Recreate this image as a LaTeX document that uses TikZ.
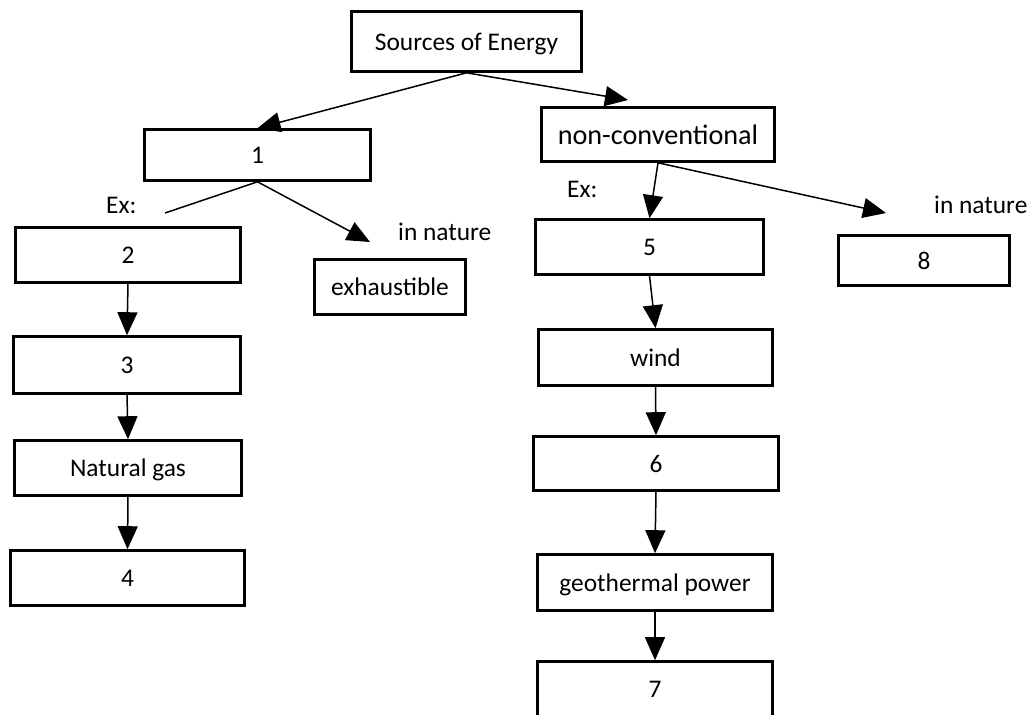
\documentclass[tikz,border=0pt]{standalone}
\usepackage{fontspec}
\setmainfont{Carlito}
\usetikzlibrary{arrows.meta}
\newcommand\fsmain{\fontsize{25.4}{30}\selectfont}
\newcommand\fsbig{\fontsize{28.2}{33}\selectfont}
\tikzset{
  box/.style={draw, line width=2.6pt, inner sep=0pt, text height=17pt, text depth=0pt, font=\fsmain},
  arr/.style={line width=1.5pt, -{Triangle[length=23pt,width=20pt]}},
  plain/.style={line width=1.5pt},
  lbl/.style={inner sep=0pt, anchor=base west, font=\fsmain},
}
\begin{document}
\begin{tikzpicture}[x=1pt,y=-1pt]
\useasboundingbox[fill=white] (0,0) rectangle (1031,715);
% boxes
\node[box, minimum width=230pt, minimum height=60pt] (S) at (466.5,41.5) {Sources of Energy};
\node[box, minimum width=226pt, minimum height=51pt] (b1) at (257.5,155) {1};
\node[box, minimum width=233pt, minimum height=54pt, font=\fsbig, text height=19pt] (nc) at (658,134.5) {non-conventional};
\node[box, minimum width=225pt, minimum height=55pt] (b2) at (128,255) {2};
\node[box, minimum width=151pt, minimum height=55pt] (exh) at (390,287) {exhaustible};
\node[box, minimum width=227pt, minimum height=57pt] (b3) at (127,365) {3};
\node[box, minimum width=227pt, minimum height=55pt] (ng) at (128,468) {Natural gas};
\node[box, minimum width=234pt, minimum height=55pt] (b4) at (127.5,578) {4};
\node[box, minimum width=228pt, minimum height=55pt] (b5) at (649.5,247) {5};
\node[box, minimum width=171pt, minimum height=50pt] (b8) at (924,260.5) {8};
\node[box, minimum width=234pt, minimum height=56pt] (wind) at (655.5,357.5) {wind};
\node[box, minimum width=245pt, minimum height=54pt] (b6) at (656,463.5) {6};
\node[box, minimum width=235pt, minimum height=56pt] (geo) at (655,582.5) {geothermal power};
\node[box, minimum width=235pt, minimum height=55pt] (b7) at (655,689) {7};
% labels
\node[lbl] (exL) at (106,213) {Ex:};
\node[lbl] (exR) at (567,197) {Ex:};
\node[lbl] (inL) at (398,240) {in nature};
\node[lbl] (inR) at (934,213) {in nature};
% free ends
\coordinate (ncTip) at (628,100);
\coordinate (exEnd) at (165,213);
\coordinate (inTipL) at (370,242);
\coordinate (inTipR) at (886,213);
% connectors
\draw[arr] (S.south) -- (b1.north);
\draw[arr] (S.south) -- (ncTip);
\draw[plain] (b1.south) -- (exEnd);
\draw[arr] (b1.south) -- (inTipL);
\draw[arr] (b2.south) -- (b3.north);
\draw[arr] (b3.south) -- (ng.north);
\draw[arr] (ng.south) -- (b4.north);
\draw[arr] (nc.south) -- (b5.north);
\draw[arr] (nc.south) -- (inTipR);
\draw[arr] (b5.south) -- (wind.north);
\draw[arr] (wind.south) -- (b6.north);
\draw[arr] (b6.south) -- (geo.north);
\draw[arr] (geo.south) -- (b7.north);
\end{tikzpicture}
\end{document}
